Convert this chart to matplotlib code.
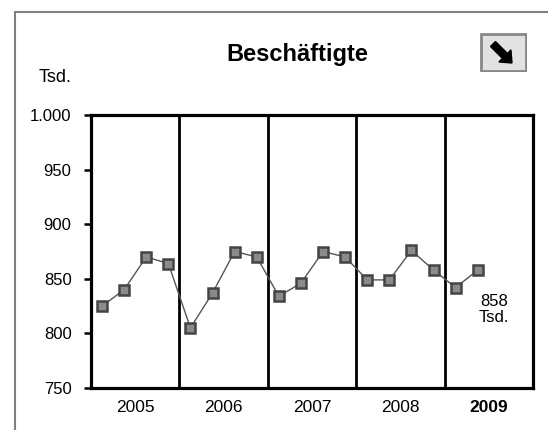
import matplotlib
matplotlib.use("Agg")
import matplotlib.pyplot as plt
from matplotlib.patches import Rectangle, FancyArrow
import numpy as np

plt.rcParams['font.family'] = ['Liberation Sans', 'DejaVu Sans']

# quarterly values (Tsd.), 2005 Q1 .. 2009 Q2
years = ['2005', '2006', '2007', '2008', '2009']
values = [825, 840, 870, 864,
          805, 837, 875, 870,
          834, 846, 875, 870,
          849, 849, 876, 858,
          842, 858]
yticks = [750, 800, 850, 900, 950, 1000]
ytick_labels = ['750', '800', '850', '900', '950', '1.000']

fig = plt.figure(figsize=(5.48, 4.3), dpi=100)

# outer gray frame
fig.patches.append(Rectangle((15 / 548, -0.1), 1.2, 1 - 12 / 430 + 0.1,
                             transform=fig.transFigure, fill=False,
                             edgecolor='#808080', linewidth=1.5))

ax = fig.add_axes([91 / 548, 1 - 388 / 430, 442 / 548, 273 / 430])

x = np.arange(len(values))
ax.plot(x, values, color='#555555', linewidth=1.0, marker='s', markersize=6.5,
        markerfacecolor='#8a8a8a', markeredgecolor='#444444', markeredgewidth=1.8,
        zorder=3)

ax.set_xlim(-0.5, 4 * len(years) - 0.5)
ax.set_ylim(750, 1000)

for b in range(1, len(years)):
    ax.axvline(4 * b - 0.5, color='black', linewidth=2.0)

for s in ax.spines.values():
    s.set_linewidth(2.3)

ax.set_yticks(yticks)
ax.set_yticklabels(ytick_labels, fontsize=12)
ax.tick_params(axis='y', direction='out', length=5, width=1.8, pad=9)

ax.set_xticks([4 * i + 1.5 for i in range(len(years))])
ax.set_xticklabels(years, fontsize=12.5)
ax.tick_params(axis='x', length=0, pad=9)
ax.get_xticklabels()[-1].set_fontweight('bold')

ax.text(x[-1] + 0.73, values[-1] - 22, f'{values[-1]}\nTsd.', ha='center',
        va='top', fontsize=12, linespacing=1.05)

fig.text(297 / 548, 1 - 55 / 430, 'Beschäftigte', ha='center', va='center',
         fontsize=17, fontweight='bold')
fig.text(55 / 548, 1 - 78 / 430, 'Tsd.', ha='center', va='center', fontsize=13)

# arrow button, drawn in a small pixel-unit axes
bx = fig.add_axes([480 / 548, 1 - 72 / 430, 47 / 548, 39 / 430])
bx.set_xlim(0, 47)
bx.set_ylim(0, 39)
bx.axis('off')
bx.add_patch(Rectangle((1, 1), 45, 37, facecolor='#e2e2e2',
                       edgecolor='#888888', linewidth=2))
bx.add_patch(FancyArrow(13, 28, 19, -19, width=7, head_width=17, head_length=10,
                        length_includes_head=True, color='black'))

fig.savefig('out.png', dpi=100)
